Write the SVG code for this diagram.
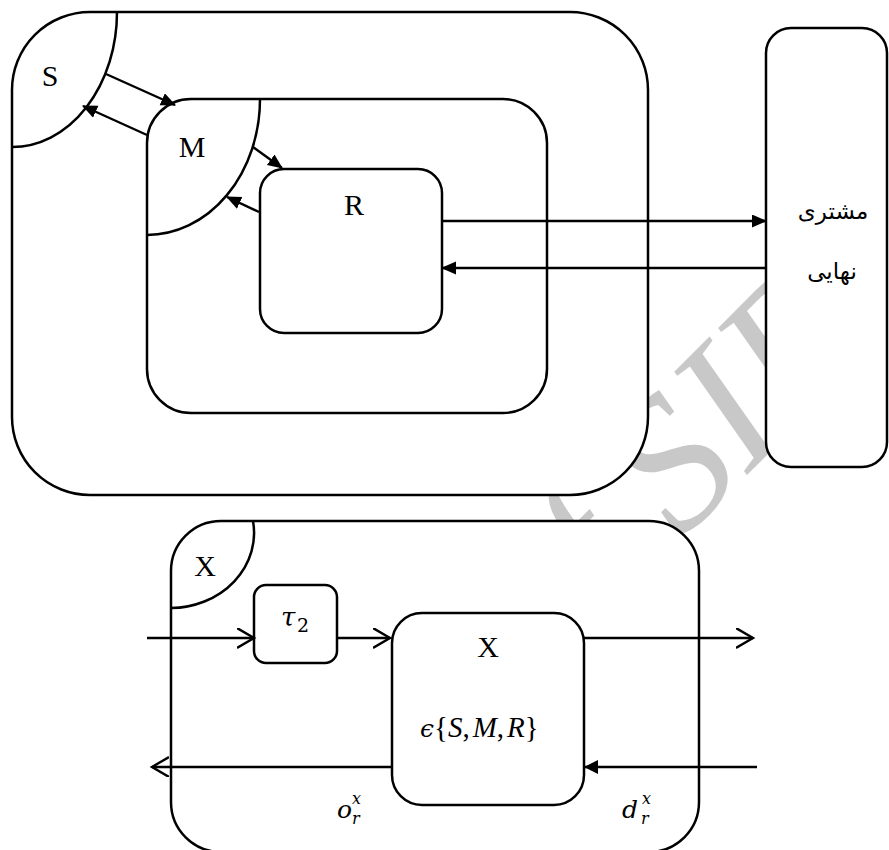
<svg xmlns="http://www.w3.org/2000/svg" width="889" height="850" viewBox="0 0 889 850">
<defs>
<style>
.box{fill:#fff;stroke:#000;stroke-width:2.5}
.arc{fill:none;stroke:#000;stroke-width:2.5}
.ln{fill:none;stroke:#000;stroke-width:2.4}
.lbl{font-family:"Liberation Serif","Times New Roman",serif;font-size:30px;fill:#000;text-anchor:middle}
.fa{font-family:"DejaVu Sans",sans-serif;font-size:23px;fill:#000;text-anchor:middle}
.mi{font-family:"DejaVu Serif",serif;font-style:italic;fill:#000}
.up{font-family:"DejaVu Serif",serif;font-style:normal;fill:#000}
.ti{font-family:"Liberation Serif",serif;font-style:italic}
.tu{font-family:"Liberation Serif",serif;font-style:normal}
.wm{font-family:"Liberation Serif",serif;font-style:italic;font-size:190px;fill:#c8c8c8}
</style>
<marker id="fill" markerUnits="userSpaceOnUse" markerWidth="16" markerHeight="14" refX="14" refY="6.5" orient="auto"><path d="M0,0 L15,6.5 L0,13 z" fill="#000"/></marker>
<marker id="fillS" markerUnits="userSpaceOnUse" markerWidth="16" markerHeight="14" refX="14" refY="7" orient="auto"><path d="M0,0 L14,7 L0,14 z" fill="#000"/></marker>
<marker id="open" markerUnits="userSpaceOnUse" markerWidth="22" markerHeight="24" refX="17" refY="10" orient="auto"><path d="M0,0 L17,10 L0,20" fill="none" stroke="#000" stroke-width="2.4"/></marker>
</defs>
<rect width="889" height="850" fill="#fff"/>
<text class="wm" x="96" y="1126" transform="rotate(-45 96 1126)">Archive of SID</text>

<g id="supplier-system">
<rect class="box" x="12" y="12" width="636" height="483" rx="78"/>
</g>
<g id="S">
<path class="arc" d="M117,12 A105,135 0 0 1 12,147"/>
<text class="lbl" x="50" y="86">S</text>
</g>
<g id="M">
<rect class="box" x="147" y="99" width="400" height="314" rx="44"/>
<path class="arc" d="M260,99 A113,136 0 0 1 147,235"/>
<text class="lbl" x="192" y="157">M</text>
</g>
<g id="R">
<rect class="box" x="260" y="169" width="182" height="164" rx="24"/>
<text class="lbl" x="354" y="215">R</text>
</g>
<g id="customer">
<rect class="box" x="766" y="28" width="121" height="439" rx="25"/>
<text class="fa" x="833" y="219" direction="rtl">مشتری</text>
<text class="fa" x="832" y="279" direction="rtl">نهایی</text>
</g>
<g id="X-outer">
<rect class="box" x="171" y="521" width="528" height="331" rx="50"/>
<path class="arc" d="M253,521 A84,75 0 0 1 171,608"/>
<text class="lbl" x="205" y="576">X</text>
</g>
<g id="tau">
<rect class="box" x="254" y="585" width="83" height="78" rx="12"/>
<text x="281" y="626" font-size="26" class="mi">τ</text>
<text x="297" y="632" font-size="19" class="up">2</text>
</g>
<g id="X-inner">
<rect class="box" x="392" y="613" width="192" height="192" rx="30"/>
<text class="lbl" x="488" y="657">X</text>
<text x="420" y="737" font-size="29"><tspan class="mi" font-size="25">ϵ</tspan><tspan class="tu">{</tspan><tspan class="ti">S</tspan><tspan class="tu">,</tspan><tspan class="ti" dx="3">M</tspan><tspan class="tu">,</tspan><tspan class="ti" dx="3">R</tspan><tspan class="tu">}</tspan></text>
</g>
<g id="labels">
<text x="337" y="818" font-size="25" class="mi">o</text>
<text x="352" y="804" font-size="16" class="mi">x</text>
<text x="352" y="824" font-size="16" class="mi">r</text>
<text x="622" y="818" font-size="25" class="mi">d</text>
<text x="642" y="804" font-size="16" class="mi">x</text>
<text x="641" y="824" font-size="16" class="mi">r</text>
</g>

<g id="connectors">
<line class="ln" x1="106" y1="74" x2="175" y2="105" marker-end="url(#fill)"/>
<line class="ln" x1="147" y1="135" x2="83" y2="106" marker-end="url(#fill)"/>
<line class="ln" x1="253" y1="147" x2="282" y2="168" marker-end="url(#fill)"/>
<line class="ln" x1="259" y1="212" x2="227" y2="197" marker-end="url(#fill)"/>
<line class="ln" x1="442" y1="221" x2="766" y2="221" marker-end="url(#fill)"/>
<line class="ln" x1="766" y1="268" x2="442" y2="268" marker-end="url(#fill)"/>
<line class="ln" x1="147" y1="638" x2="254" y2="638" marker-end="url(#open)"/>
<line class="ln" x1="337" y1="638" x2="390" y2="638" marker-end="url(#open)"/>
<line class="ln" x1="584" y1="638" x2="753" y2="638" marker-end="url(#open)"/>
<line class="ln" x1="757" y1="767" x2="584" y2="767" marker-end="url(#fillS)"/>
<line class="ln" x1="392" y1="767" x2="152" y2="767" marker-end="url(#open)"/>
</g>
</svg>
